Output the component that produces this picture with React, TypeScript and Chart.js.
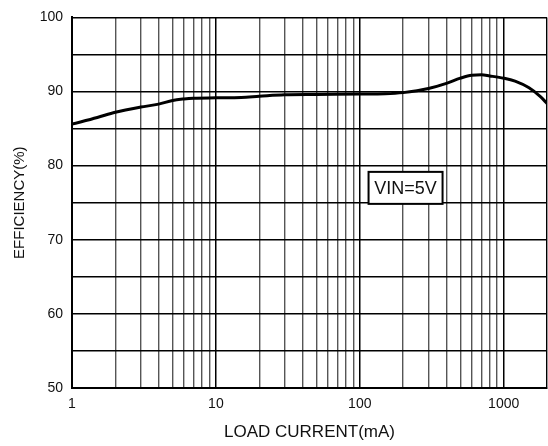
import React, { useEffect, useRef } from "react";
import { Chart, registerables } from "chart.js";

Chart.register(...registerables);

const loadCurrent = [1, 1.5, 2, 3, 4, 5, 6, 7, 10, 15, 20, 30, 50, 100, 150, 200, 250, 300, 400, 500, 600, 700, 800, 1000, 1200, 1500, 1800, 2000];
const efficiency = [85.6, 86.5, 87.2, 87.9, 88.3, 88.8, 89.0, 89.1, 89.15, 89.2, 89.35, 89.55, 89.6, 89.65, 89.7, 89.85, 90.1, 90.4, 91.1, 91.8, 92.2, 92.25, 92.1, 91.8, 91.4, 90.5, 89.3, 88.4];

const xGridValues = [1, 2, 3, 4, 5, 6, 7, 8, 9, 10, 20, 30, 40, 50, 60, 70, 80, 90, 100, 200, 300, 400, 500, 600, 700, 800, 900, 1000, 2000];
const xLabelValues = [1, 10, 100, 1000];
const yLabelValues = [50, 60, 70, 80, 90, 100];

const xTitle = "LOAD CURRENT(mA)";
const yTitle = "EFFICIENCY(%)";
const noteText = "VIN=5V";
const noteX = 208;
const noteY = 77;

const FONT = "'Liberation Sans', Arial, sans-serif";

const notePlugin = {
  id: "noteBox",
  afterDatasetsDraw(chart: any) {
    const { ctx, scales } = chart;
    const cx = scales.x.getPixelForValue(noteX);
    const cy = scales.y.getPixelForValue(noteY);
    const w = 74;
    const h = 32;
    ctx.save();
    ctx.fillStyle = "#ffffff";
    ctx.fillRect(cx - w / 2, cy - h / 2, w, h);
    ctx.strokeStyle = "#000000";
    ctx.lineWidth = 2;
    ctx.strokeRect(cx - w / 2, cy - h / 2, w, h);
    ctx.fillStyle = "#111111";
    ctx.font = `18px ${FONT}`;
    ctx.textAlign = "center";
    ctx.textBaseline = "middle";
    ctx.fillText(noteText, cx, cy + 1);
    ctx.restore();
  },
};

export default function App() {
  const ref = useRef<HTMLCanvasElement | null>(null);

  useEffect(() => {
    document.body.style.margin = "0";
    const canvas = ref.current;
    if (!canvas) return;
    const chart = new Chart(canvas, {
      type: "line",
      data: {
        datasets: [
          {
            data: loadCurrent.map((x, i) => ({ x, y: efficiency[i] })),
            borderColor: "#000000",
            borderWidth: 3,
            pointRadius: 0,
            cubicInterpolationMode: "monotone",
            fill: false,
          },
        ],
      },
      options: {
        animation: false,
        responsive: false,
        devicePixelRatio: 1,
        layout: { padding: { top: 11, right: 1, left: 0, bottom: 0 } },
        plugins: { legend: { display: false }, tooltip: { enabled: false } },
        scales: {
          x: {
            type: "logarithmic",
            min: 1,
            max: 2000,
            afterBuildTicks: (scale: any) => {
              scale.ticks = xGridValues.map((v) => ({ value: v }));
            },
            afterFit: (scale: any) => {
              scale.height = 58;
              scale.paddingRight = 0;
              scale.paddingLeft = 0;
            },
            ticks: {
              autoSkip: false,
              maxRotation: 0,
              padding: 8,
              color: "#111111",
              font: { family: FONT, size: 14 },
              callback: (v: any) => (xLabelValues.includes(Number(v)) ? String(v) : ""),
            },
            grid: {
              drawTicks: false,
              tickLength: 0,
              color: (c: any) => {
                const v = c.tick ? c.tick.value : 0;
                return xLabelValues.includes(v) || v === 2000 ? "#000000" : "#555555";
              },
              lineWidth: (c: any) => {
                const v = c.tick ? c.tick.value : 0;
                return xLabelValues.includes(v) ? 1.5 : 1.4;
              },
            },
            border: { color: "#000000", width: 2 },
            title: {
              display: true,
              text: xTitle,
              color: "#111111",
              font: { family: FONT, size: 17 },
              padding: { top: 0, bottom: 3 },
            },
          },
          y: {
            min: 50,
            max: 100,
            afterFit: (scale: any) => {
              scale.width = 72;
            },
            ticks: {
              stepSize: 5,
              padding: 9,
              color: "#111111",
              font: { family: FONT, size: 14 },
              callback: (v: any) => (yLabelValues.includes(Number(v)) ? String(v) : ""),
            },
            grid: {
              drawTicks: false,
              tickLength: 0,
              color: "#000000",
              lineWidth: 1.5,
            },
            border: { color: "#000000", width: 2 },
            title: {
              display: true,
              text: yTitle,
              color: "#111111",
              font: { family: FONT, size: 15 },
              padding: { top: 11, bottom: 0 },
            },
          },
        },
      },
      plugins: [notePlugin],
    } as any);
    return () => chart.destroy();
  }, []);

  return (
    <div style={{ position: "absolute", left: 0, top: 0, width: 548, height: 446, background: "#fff" }}>
      <canvas ref={ref} width={548} height={446} style={{ width: 548, height: 446, display: "block" }} />
    </div>
  );
}
